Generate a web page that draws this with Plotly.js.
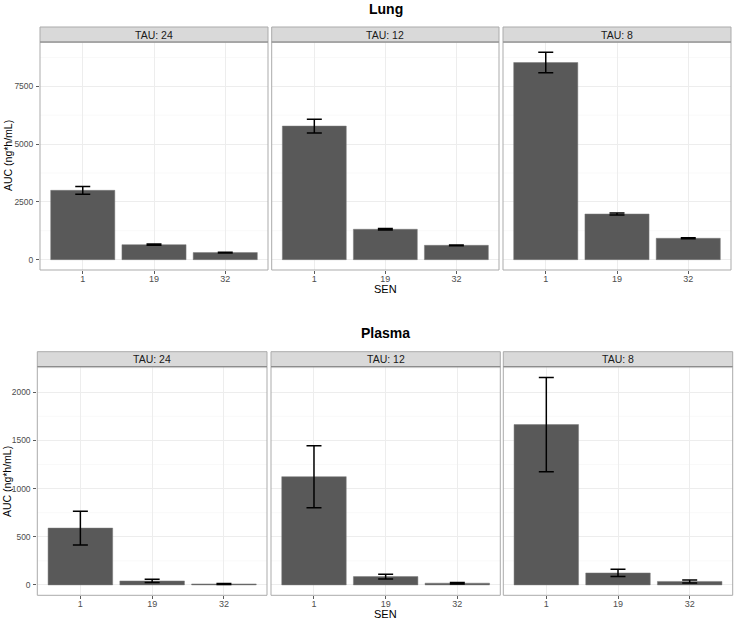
<!DOCTYPE html>
<html>
<head>
<meta charset="utf-8">
<script src="https://cdn.plot.ly/plotly-3.0.1.min.js"></script>
<style>html,body{margin:0;padding:0;background:#fff;}#chart{width:736px;height:620px;}</style>
</head>
<body>
<div id="chart"></div>
<script>
// ---- data ----
const sen = ["1", "19", "32"];
const tauLabels = ["TAU: 24", "TAU: 12", "TAU: 8"];
const lungAUC = [
  [3000, 650, 305],
  [5780, 1315, 620],
  [8530, 1975, 925]
];
const lungErr = [
  [170, 30, 18],
  [300, 30, 15],
  [440, 45, 20]
];
const plasmaAUC = [
  [590, 41, 10],
  [1124, 86, 18],
  [1665, 124, 36]
];
const plasmaErr = [
  [175, 17, 5],
  [322, 24, 8],
  [490, 38, 16]
];
const rowTitles = ["Lung", "Plasma"];

// ---- layout geometry (px) ----
const W = 736, H = 620;
const px = v => v / W;
const py = v => 1 - v / H;
const rows = [
  {top: 42, bottom: 270, stripTop: 27, cols: [[40, 268], [271.7, 499], [503, 731]], range: [-448, 9418], dtick: 2500, titleY: 9, senY: 289, aucY: 156, aucX: 8,
   vals: lungAUC, errs: lungErr},
  {top: 366.7, bottom: 595.3, stripTop: 351.7, cols: [[37.3, 267], [271, 500.3], [503.3, 732.7]], range: [-108, 2266], dtick: 500, titleY: 333, senY: 613.5, aucY: 482, aucX: 7,
   vals: plasmaAUC, errs: plasmaErr}
];

const traces = [];
const layout = {
  width: W, height: H,
  margin: {l: 0, r: 0, t: 0, b: 0},
  paper_bgcolor: "#ffffff",
  plot_bgcolor: "#ffffff",
  showlegend: false,
  font: {family: "Liberation Sans, Arial, sans-serif", color: "#4D4D4D"},
  shapes: [],
  annotations: []
};

let idx = 0;
rows.forEach((r, ri) => {
  r.cols.forEach((c, ci) => {
    idx++;
    const xa = "xaxis" + (idx === 1 ? "" : idx);
    const ya = "yaxis" + (idx === 1 ? "" : idx);
    const xr = "x" + (idx === 1 ? "" : idx);
    const yr = "y" + (idx === 1 ? "" : idx);
    traces.push({
      type: "bar",
      x: sen,
      y: r.vals[ci],
      xaxis: xr, yaxis: yr,
      width: 0.9,
      marker: {color: "#595959", line: {color: "#7a7a7a", width: 0.5}},
      error_y: {type: "data", array: r.errs[ci], visible: true, color: "#000000", thickness: 1.5, width: 7.5},
      hoverinfo: "x+y"
    });
    // minor gridlines
    const minor = [];
    for (let v = r.dtick / 2; v < r.range[1]; v += r.dtick) minor.push(v);
    minor.forEach(v => {
      layout.shapes.push({type: "line", xref: xr + " domain", yref: yr, x0: 0, x1: 1, y0: v, y1: v,
        line: {color: "#F5F5F5", width: 0.6}, layer: "below"});
    });
    layout[xa] = {
      domain: [px(c[0]), px(c[1])],
      anchor: yr,
      type: "category",
      range: [-0.6, 2.6],
      showgrid: true, gridcolor: "#EDEDED", gridwidth: 1,
      zeroline: false, showline: false,
      ticks: "outside", ticklen: 3, tickcolor: "#333333", tickwidth: 0.8,
      ticklabelstandoff: -3,
      tickfont: {size: 9, color: "#4D4D4D"},
      fixedrange: true
    };
    layout[ya] = {
      domain: [py(r.bottom), py(r.top)],
      anchor: xr,
      range: r.range,
      dtick: r.dtick, tick0: 0,
      showgrid: true, gridcolor: "#EDEDED", gridwidth: 1,
      zeroline: false, showline: false,
      ticks: ci === 0 ? "outside" : "", ticklen: 3, tickcolor: "#333333", tickwidth: 0.8,
      ticklabelstandoff: 1,
      showticklabels: ci === 0,
      tickfont: {size: 8.5, color: "#4D4D4D"},
      fixedrange: true
    };
    // panel border
    layout.shapes.push({type: "rect", xref: "paper", yref: "paper",
      x0: px(c[0]), x1: px(c[1]), y0: py(r.bottom), y1: py(r.top),
      line: {color: "#ABABAB", width: 1}, fillcolor: "rgba(0,0,0,0)", layer: "above"});
    // strip
    layout.shapes.push({type: "rect", xref: "paper", yref: "paper",
      x0: px(c[0]), x1: px(c[1]), y0: py(r.top), y1: py(r.stripTop),
      line: {color: "#ABABAB", width: 1}, fillcolor: "#D9D9D9", layer: "above"});
    layout.shapes.push({type: "line", xref: "paper", yref: "paper",
      x0: px(c[0]), x1: px(c[1]), y0: py(r.top), y1: py(r.top),
      line: {color: "#8C8C8C", width: 1.2}, layer: "above"});
    layout.annotations.push({xref: "paper", yref: "paper",
      x: px((c[0] + c[1]) / 2), y: py((r.top + r.stripTop) / 2),
      text: tauLabels[ci], showarrow: false, xanchor: "center", yanchor: "middle",
      font: {size: 10.5, color: "#1A1A1A"}});
  });
  const mid = (r.cols[0][0] + r.cols[2][1]) / 2;
  layout.annotations.push({xref: "paper", yref: "paper", x: px(mid), y: py(r.titleY),
    text: "<b>" + rowTitles[ri] + "</b>", showarrow: false, xanchor: "center", yanchor: "middle",
    font: {size: 14, color: "#000000"}});
  layout.annotations.push({xref: "paper", yref: "paper", x: px(385), y: py(r.senY),
    text: "SEN", showarrow: false, xanchor: "center", yanchor: "middle",
    font: {size: 11, color: "#000000"}});
  layout.annotations.push({xref: "paper", yref: "paper", x: px(r.aucX), y: py(r.aucY),
    text: "AUC (ng*h/mL)", textangle: -90, showarrow: false, xanchor: "center", yanchor: "middle",
    font: {size: 10.5, color: "#000000"}});
});

Plotly.newPlot("chart", traces, layout, {displayModeBar: false, staticPlot: true});
</script>
</body>
</html>
